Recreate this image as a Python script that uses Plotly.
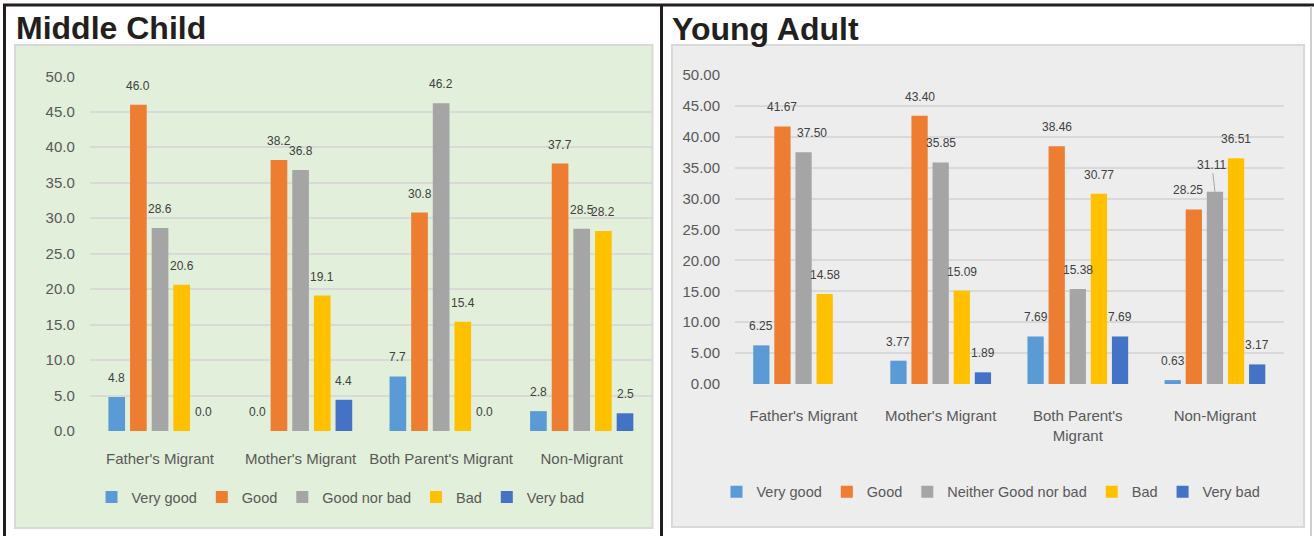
"""Self-rated status by migration of parents: Middle Child vs Young Adult."""

import plotly.graph_objects as go

W, H = 1314, 536

CATEGORIES_CHILD = ["Father's Migrant", "Mother's Migrant", "Both Parent's Migrant", "Non-Migrant"]
CATEGORIES_ADULT = ["Father's Migrant", "Mother's Migrant", "Both Parent's<br>Migrant", "Non-Migrant"]

SERIES_CHILD = ["Very good", "Good", "Good nor bad", "Bad", "Very bad"]
SERIES_ADULT = ["Very good", "Good", "Neither Good nor bad", "Bad", "Very bad"]

CHILD_VERY_GOOD = [4.8, 0.0, 7.7, 2.8]
CHILD_GOOD = [46.0, 38.2, 30.8, 37.7]
CHILD_NEUTRAL = [28.6, 36.8, 46.2, 28.5]
CHILD_BAD = [20.6, 19.1, 15.4, 28.2]
CHILD_VERY_BAD = [0.0, 4.4, 0.0, 2.5]

ADULT_VERY_GOOD = [6.25, 3.77, 7.69, 0.63]
ADULT_GOOD = [41.67, 43.40, 38.46, 28.25]
ADULT_NEUTRAL = [37.50, 35.85, 15.38, 31.11]
ADULT_BAD = [14.58, 15.09, 30.77, 36.51]
ADULT_VERY_BAD = [None, 1.89, 7.69, 3.17]

COLORS = ["#5B9BD5", "#ED7D31", "#A5A5A5", "#FFC000", "#4472C4"]

BARGAP = 0.23
BARGROUPGAP = 0.23

FONT = "Liberation Sans, Arial, sans-serif"
AXIS_GREY = "#595959"
LABEL_GREY = "#404040"


def px_x(x):
    return x / W


def px_y(y):
    return 1 - y / H


def add_panel(fig, cats, names, series, fmt, xaxis, yaxis, legend, nudges):
    """Add one grouped bar panel with its data labels."""
    n = len(series)
    slot = (1 - BARGAP) / n
    for j, (name, vals) in enumerate(zip(names, series)):
        fig.add_trace(go.Bar(
            x=cats,
            y=vals,
            name=name,
            marker_color=COLORS[j],
            marker_line_width=0,
            xaxis=xaxis,
            yaxis=yaxis,
            legend=legend,
            hoverinfo="skip",
        ))
        for i, v in enumerate(vals):
            if v is None:
                continue
            nudge = nudges.get((i, j), {})
            ann = dict(
                x=i + (j - (n - 1) / 2) * slot,
                y=v,
                xref=xaxis,
                yref=yaxis,
                text=fmt.format(v),
                font=dict(family=FONT, size=12, color=LABEL_GREY),
                showarrow=False,
                yanchor="bottom",
                yshift=10,
                xshift=nudge.get("dx", 0),
            )
            if "ax" in nudge:
                ann.update(
                    showarrow=True, arrowhead=0, arrowwidth=1,
                    arrowcolor="#A5A5A5", ax=nudge["ax"], ay=nudge["ay"],
                    yanchor="auto", yshift=0, standoff=0,
                )
            fig.add_annotation(ann)


fig = go.Figure()

add_panel(
    fig, CATEGORIES_CHILD, SERIES_CHILD,
    [CHILD_VERY_GOOD, CHILD_GOOD, CHILD_NEUTRAL, CHILD_BAD, CHILD_VERY_BAD],
    "{:.1f}", "x", "y", "legend", {},
)
add_panel(
    fig, CATEGORIES_ADULT, SERIES_ADULT,
    [ADULT_VERY_GOOD, ADULT_GOOD, ADULT_NEUTRAL, ADULT_BAD, ADULT_VERY_BAD],
    "{:.2f}", "x2", "y2", "legend2",
    {(0, 2): {"dx": 8}, (3, 1): {"dx": -6}, (3, 2): {"ax": -3, "ay": -27}},
)

axis_font = dict(family=FONT, size=15, color=AXIS_GREY)
legend_font = dict(family=FONT, size=14.5, color=AXIS_GREY)
y_common = dict(
    range=[0, 50], dtick=5, gridcolor="#D9D9D9", gridwidth=1.5,
    zeroline=False, showline=False, ticks="outside", ticklen=11,
    tickcolor="rgba(0,0,0,0)", tickfont=axis_font, fixedrange=True,
    automargin=False,
)
x_common = dict(
    type="category", showgrid=False, showline=False, zeroline=False,
    ticks="outside", tickcolor="rgba(0,0,0,0)", tickangle=0,
    tickfont=axis_font, fixedrange=True, automargin=False,
)

fig.update_layout(
    width=W,
    height=H,
    margin=dict(l=0, r=0, t=0, b=0, autoexpand=False),
    paper_bgcolor="white",
    plot_bgcolor="rgba(0,0,0,0)",
    barmode="group",
    bargap=BARGAP,
    bargroupgap=BARGROUPGAP,
    xaxis=dict(x_common, domain=[px_x(89.75), px_x(652)], anchor="y", ticklen=14),
    yaxis=dict(y_common, domain=[px_y(431), px_y(76.3)], anchor="x", tickformat=".1f"),
    xaxis2=dict(x_common, domain=[px_x(735), px_x(1283.5)], anchor="y2", ticklen=18),
    yaxis2=dict(y_common, domain=[px_y(384), px_y(75)], anchor="x2", tickformat=".2f"),
    legend=dict(
        orientation="h", x=px_x(340.5), xanchor="center", y=px_y(497), yanchor="middle",
        font=legend_font, bgcolor="rgba(0,0,0,0)", itemwidth=30, traceorder="normal",
    ),
    legend2=dict(
        orientation="h", x=px_x(991), xanchor="center", y=px_y(491.7), yanchor="middle",
        font=legend_font, bgcolor="rgba(0,0,0,0)", itemwidth=30, traceorder="normal",
    ),
    showlegend=True,
)

# panel backgrounds
fig.add_shape(type="rect", xref="paper", yref="paper", layer="below",
              x0=px_x(15), x1=px_x(652.5), y0=px_y(528), y1=px_y(45),
              fillcolor="#E2EFDA", line=dict(color="#D9D9D9", width=2))
fig.add_shape(type="rect", xref="paper", yref="paper", layer="below",
              x0=px_x(672), x1=px_x(1304), y0=px_y(527), y1=px_y(45),
              fillcolor="#EDEDED", line=dict(color="#D9D9D9", width=2))

# frame lines
frame = dict(color="#231F20", width=3)
fig.add_shape(type="line", xref="paper", yref="paper",
              x0=px_x(3), x1=1, y0=px_y(5), y1=px_y(5), line=frame)
fig.add_shape(type="line", xref="paper", yref="paper",
              x0=px_x(4.5), x1=px_x(4.5), y0=px_y(5), y1=0, line=frame)
fig.add_shape(type="line", xref="paper", yref="paper",
              x0=px_x(661.5), x1=px_x(661.5), y0=px_y(5), y1=0, line=frame)
fig.add_shape(type="line", xref="paper", yref="paper",
              x0=px_x(1311), x1=px_x(1311), y0=px_y(6), y1=0,
              line=dict(color="#BFBFBF", width=1.5))

# panel titles
title_font = dict(family=FONT, size=32, color="#231F20")
fig.add_annotation(text="<b>Middle Child</b>", xref="paper", yref="paper",
                   x=px_x(15), y=px_y(28), xanchor="left", yanchor="middle",
                   showarrow=False, font=title_font, borderpad=0)
fig.add_annotation(text="<b>Young Adult</b>", xref="paper", yref="paper",
                   x=px_x(671), y=px_y(28.5), xanchor="left", yanchor="middle",
                   showarrow=False, font=title_font, borderpad=0)

# the page's default body margin would push the figure 8px off the corner
fig.write_html(
    "out.html",
    config={"displayModeBar": False},
    post_script="document.body.style.margin = '0'; document.body.style.overflow = 'hidden';",
)
